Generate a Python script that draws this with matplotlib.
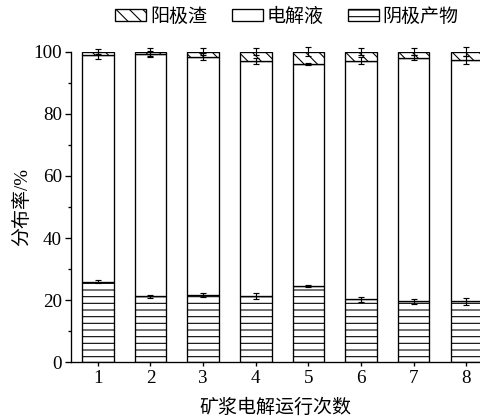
import numpy as np
import matplotlib
matplotlib.use('Agg')
import matplotlib.pyplot as plt

plt.rcParams['font.family'] = ['Liberation Serif', 'Noto Sans CJK SC']
plt.rcParams['hatch.linewidth'] = 0.65
plt.rcParams['axes.unicode_minus'] = False

runs = [1, 2, 3, 4, 5, 6, 7, 8]
# 阴极产物 (底部)
cathode = [26.0, 21.3, 21.7, 21.4, 24.5, 20.3, 19.7, 19.6]
cathode_err = [0.6, 0.5, 0.6, 0.9, 0.4, 0.8, 0.8, 1.1]
# 阳极渣 (顶部)
anode = [1.2, 0.8, 1.6, 2.9, 4.0, 2.9, 1.9, 2.7]
anode_err = [0.8, 1.3, 1.1, 1.1, 1.4, 1.1, 1.1, 1.4]
# 电解液 (中间)
electrolyte_err = [1.0, 1.0, 1.1, 0.9, 0.4, 1.2, 0.7, 1.2]

x = np.array(runs)
cat = np.array(cathode)
ano = np.array(anode)
ele = 100 - cat - ano

fig = plt.figure(figsize=(4.0, 419 / 120), dpi=120)
ax = fig.add_axes([71 / 480, 1 - 362.3 / 419, 1 - 71 / 480, (362.3 - 51.7) / 419])

w = 0.6
b1 = ax.bar(x, cat, w, color='white', edgecolor='black', hatch='---', linewidth=0.8, label='阴极产物')
b2 = ax.bar(x, ele, w, bottom=cat, color='white', edgecolor='black', linewidth=0.8, label='电解液')
b3 = ax.bar(x, ano, w, bottom=cat + ele, color='white', edgecolor='black', hatch='\\\\\\', linewidth=0.8, label='阳极渣')

ekw = dict(fmt='none', ecolor='black', elinewidth=0.7, capsize=2, capthick=0.7, clip_on=False)
ax.errorbar(x, cat, yerr=cathode_err, **ekw)
ax.errorbar(x, cat + ele, yerr=electrolyte_err, **ekw)
ax.errorbar(x, cat + ele + ano, yerr=anode_err, **ekw)

ax.set_xlim(0.49, 8.26)
ax.set_ylim(0, 100)
ax.set_xticks(runs)
ax.set_yticks(np.arange(0, 101, 20))
ax.set_yticks(np.arange(10, 100, 20), minor=True)
ax.tick_params(axis='both', which='major', direction='out', length=3.5, width=0.8, labelsize=11.4, pad=2)
ax.tick_params(axis='y', which='minor', direction='out', length=2, width=0.8)
ax.tick_params(axis='x', length=2.5)
ax.spines['top'].set_visible(False)
ax.spines['right'].set_visible(False)
ax.spines['left'].set_linewidth(0.8)
ax.spines['bottom'].set_linewidth(0.8)

ax.set_ylabel('分布率/%', fontsize=11.4, labelpad=1)
ax.set_xlabel('矿浆电解运行次数', fontsize=11.4, labelpad=7)

fig.legend([b3, b2, b1], ['阳极渣', '电解液', '阴极产物'], loc='center',
           bbox_to_anchor=(287 / 480, 1 - 17 / 419), ncol=3, frameon=False,
           fontsize=11.4, handlelength=1.63, handleheight=0.6, handletextpad=0.2,
           columnspacing=1.3, borderpad=0)

fig.savefig('out.png', dpi=120)
